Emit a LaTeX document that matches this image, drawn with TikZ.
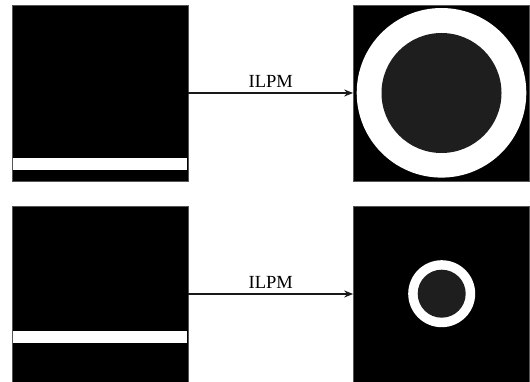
\documentclass[tikz,border=0pt]{standalone}
\usepackage{fontspec}
\setmainfont{Liberation Serif}
\usetikzlibrary{arrows.meta}
\definecolor{disk}{HTML}{1E1E1E}
\definecolor{rim}{HTML}{555555}
\begin{document}
\begin{tikzpicture}[x=1pt,y=-1pt,
  imgbox/.style={fill=black,draw=rim,line width=0.7pt},
  stripe/.style={fill=white},
  ring/.style={fill=white},
  core/.style={fill=disk},
  flow/.style={-{Stealth[length=9pt,width=7pt]},line width=1.3pt,draw=black!90},
  lbl/.style={font=\fontsize{18.5}{22}\selectfont,inner sep=0pt,anchor=base}]
\useasboundingbox (0,0) rectangle (530,382);
% top row
\node[imgbox,minimum width=176pt,minimum height=176pt,inner sep=0pt] (a1) at (100,93) {};
\fill[stripe] (13,158) rectangle (187,170);
\node[imgbox,minimum width=176pt,minimum height=176pt,inner sep=0pt] (b1) at (441.5,93) {};
\fill[ring] (441.5,92.8) circle (84.8);
\fill[core] (441.5,93) circle (60);
\draw[flow] (a1.east) -- (b1.west) node[lbl,midway,above=4.5pt] {ILPM};
% bottom row
\node[imgbox,minimum width=176pt,minimum height=176pt,inner sep=0pt] (a2) at (100,294) {};
\fill[stripe] (13,331) rectangle (187,342.7);
\node[imgbox,minimum width=176pt,minimum height=176pt,inner sep=0pt] (b2) at (441.5,294) {};
\fill[ring] (441.7,293.7) circle (33.5);
\fill[core] (441.7,293.7) circle (24);
\draw[flow] (a2.east) -- (b2.west) node[lbl,midway,above=4.5pt] {ILPM};
\end{tikzpicture}
\end{document}
